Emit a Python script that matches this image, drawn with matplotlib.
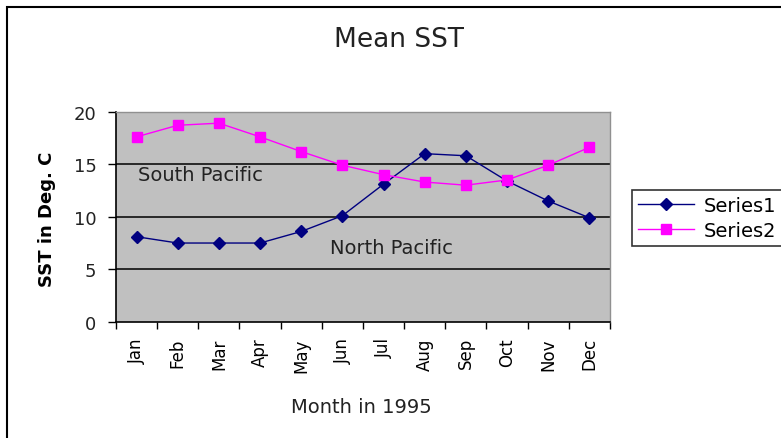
import matplotlib
matplotlib.use("Agg")
import matplotlib.pyplot as plt
from matplotlib.patches import Rectangle

# monthly mean sea surface temperature, 1995
months = ['Jan', 'Feb', 'Mar', 'Apr', 'May', 'Jun',
          'Jul', 'Aug', 'Sep', 'Oct', 'Nov', 'Dec']
north_pacific = [8.1, 7.5, 7.5, 7.5, 8.6, 10.1, 13.1, 16.0, 15.8, 13.4, 11.5, 9.9]
south_pacific = [17.6, 18.7, 18.9, 17.6, 16.2, 14.9, 14.0, 13.3, 13.0, 13.5, 14.9, 16.6]
y_ticks = [0, 5, 10, 15, 20]

fig = plt.figure(figsize=(7.81, 4.39), dpi=100)
ax = fig.add_axes([0.1485, 0.2645, 0.6325, 0.479])
ax.set_facecolor('#c0c0c0')

x = list(range(len(months)))

# gridlines first so lines sit on top
for yv in y_ticks[1:-1]:
    ax.axhline(yv, color='black', lw=1.1, zorder=1)

ax.plot(x, north_pacific, color='#000080', lw=1, marker='D', markersize=6.5,
        label='Series1', zorder=3)
ax.plot(x, south_pacific, color='#ff00ff', lw=1, marker='s', markersize=7.5,
        label='Series2', zorder=3)

ax.set_xlim(-0.5, 11.5)
ax.set_ylim(0, 20)

# category boundary ticks (excel style), labels at the centres
ax.set_xticks([i - 0.5 for i in range(len(months) + 1)])
ax.set_xticklabels([])
ax.set_xticks(x, minor=True)
ax.set_xticklabels(months, minor=True, rotation=90, fontsize=12)
ax.tick_params(axis='x', which='major', direction='out', length=5, width=1)
ax.tick_params(axis='x', which='minor', length=0, pad=11)

ax.set_yticks(y_ticks)
ax.set_yticklabels([str(v) for v in y_ticks], fontsize=13, color='#222222')
ax.tick_params(axis='y', direction='out', length=6, width=1, pad=8)

for side in ['left', 'bottom']:
    ax.spines[side].set_color('black')
    ax.spines[side].set_linewidth(1.2)
for side in ['top', 'right']:
    ax.spines[side].set_color('#909090')
    ax.spines[side].set_linewidth(1)

ax.text(0.03, 14.0, 'South Pacific', fontsize=14, color='#222222', va='center')
ax.text(4.7, 7.1, 'North Pacific', fontsize=14, color='#222222', va='center')

fig.text(399 / 781, 1 - 40 / 439, 'Mean SST', fontsize=19, ha='center', va='center',
         color='#222222')
fig.text(47 / 781, 1 - 219 / 439, 'SST in Deg. C', fontsize=13, fontweight='bold',
         rotation=90, ha='center', va='center')
fig.text(361 / 781, 1 - 408 / 439, 'Month in 1995', fontsize=14, ha='center', va='center',
         color='#222222')

leg = ax.legend(loc='upper left', bbox_to_anchor=(632 / 781, 1 - 191 / 439),
                bbox_transform=fig.transFigure, fontsize=14, frameon=True,
                fancybox=False, handlelength=2.9, borderpad=0.3, labelspacing=0.3,
                handletextpad=0.5, borderaxespad=0)
leg.get_frame().set_edgecolor('black')
leg.get_frame().set_linewidth(1.2)

# outer chart frame, cut off at right and bottom
fig.add_artist(Rectangle((7 / 781, -0.1), 1.2, 1.1 - 8 / 439, transform=fig.transFigure,
                         fill=False, edgecolor='black', lw=1.5))

fig.savefig('out.png', dpi=100)
